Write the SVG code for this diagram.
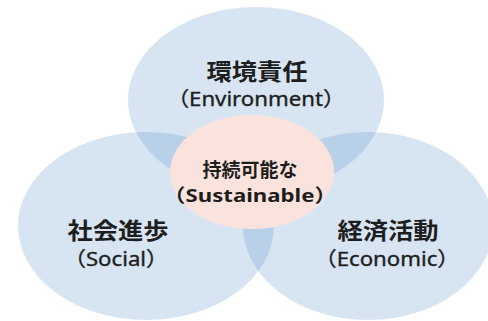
<svg xmlns="http://www.w3.org/2000/svg" width="488" height="321" viewBox="0 0 488 321">
<style>
.set{fill:rgb(88,146,200);fill-opacity:0.24}
.core{fill:#fbe3dd}
.t{font-family:"Noto Sans","Noto Sans CJK JP",sans-serif;fill:#1e1e1e;text-anchor:middle}
.jp{font-size:23px;font-weight:700}
.en{font-size:20px;font-weight:400;stroke:#1e1e1e;stroke-width:0.35}
.cjp{font-size:19px;font-weight:700}
.cen{font-size:18.5px;font-weight:700}
</style>
<rect width="488" height="321" fill="#fff"/>
<g id="environment">
<ellipse class="set" cx="256" cy="100" rx="128" ry="93"/>
<text class="t jp" transform="translate(257,80) scale(1.1,1)">環境責任</text>
<text class="t en" transform="translate(256,106) scale(1.11,1)">（Environment）</text>
</g>
<g id="social">
<ellipse class="set" cx="146" cy="226" rx="128" ry="94"/>
<text class="t jp" transform="translate(118,239) scale(1.1,1)">社会進歩</text>
<text class="t en" transform="translate(116,266) scale(1.11,1)">（Social）</text>
</g>
<g id="economic">
<ellipse class="set" cx="368" cy="226" rx="125" ry="94"/>
<text class="t jp" transform="translate(388,239) scale(1.1,1)">経済活動</text>
<text class="t en" transform="translate(387,266) scale(1.11,1)">（Economic）</text>
</g>
<g id="sustainable">
<ellipse class="core" cx="252" cy="172" rx="82" ry="57"/>
<text class="t cjp" transform="translate(250,177)">持続可能な</text>
<text class="t cen" transform="translate(250,202) scale(1.2,1)">（Sustainable）</text>
</g>
<g id="connectors"/>
</svg>
